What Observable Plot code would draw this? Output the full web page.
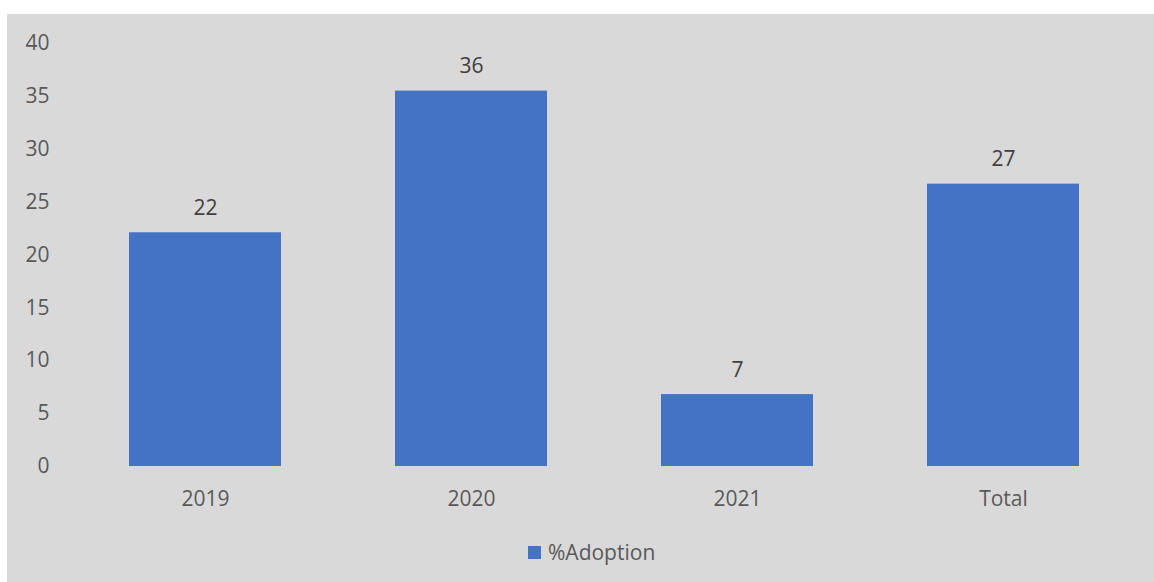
<!DOCTYPE html>
<html><head><meta charset="utf-8">
<script src="https://cdn.jsdelivr.net/npm/d3@7"></script>
<script src="https://cdn.jsdelivr.net/npm/@observablehq/plot@0.6"></script>
<style>
html,body{margin:0;padding:0;background:#fff;}
#wrap{position:absolute;left:7px;top:14px;width:1147px;height:568px;background:#d9d9d9;font-family:"Open Sans",sans-serif;}
#legend{position:absolute;left:521px;top:524px;height:28px;display:flex;align-items:center;color:#595959;font-size:21px;}
#legend .sw{width:13px;height:13px;background:#4472c4;margin-right:7px;}
</style></head>
<body><div id="wrap"><div id="chart"></div><div id="legend"><div class="sw"></div><span>%Adoption</span></div></div>
<script>
const categories = ["2019", "2020", "2021", "Total"];
const adoption = [22.1, 35.5, 6.8, 26.7];
const yTicks = [0, 5, 10, 15, 20, 25, 30, 35, 40];
const seriesName = "%Adoption";

const data = categories.map((c, i) => ({category: c, value: adoption[i]}));

const chart = Plot.plot({
  width: 1147,
  height: 510,
  marginLeft: 65,
  marginRight: 18,
  marginTop: 29,
  marginBottom: 58,
  style: {background: "transparent", fontFamily: "'Open Sans', sans-serif", fontSize: "21px", color: "#595959", overflow: "visible"},
  x: {domain: categories, paddingInner: 0.429, paddingOuter: 0.2145, label: null},
  y: {domain: [0, 40], label: null},
  marks: [
    Plot.barY(data, {x: "category", y: "value", fill: "#4472c4"}),
    Plot.text(data, {x: "category", y: "value", text: d => d3.format(".0f")(d.value), lineAnchor: "bottom", dy: -18, fill: "#404040", fontSize: 21}),
    Plot.axisY({ticks: yTicks, tickSize: 0, tickPadding: 23, fontSize: 21, fill: "#595959"}),
    Plot.axisX({tickSize: 0, tickPadding: 25, fontSize: 21, fill: "#595959"})
  ]
});
document.getElementById("chart").appendChild(chart);
</script>
</body></html>
